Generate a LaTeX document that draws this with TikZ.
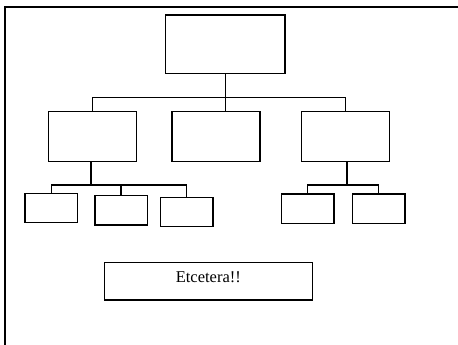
\documentclass[tikz,border=0pt]{standalone}
\usepackage{fontspec}
\setmainfont{Liberation Serif}
\usetikzlibrary{positioning}

\begin{document}
\begin{tikzpicture}[x=1pt ,y=-1pt ,line width=1.4pt ,
box/.style ={ rectangle ,draw ,fill=white ,inner sep=0pt ,line width=1.5pt},
big/.style ={ box ,minimum width =88pt ,minimum height =50pt},
small/.style ={ box ,minimum width =52.5pt ,minimum height =29.4pt}]
\useasboundingbox (0,0) rectangle (458,345);
\draw[line width=1.3pt] (5,345) -- (5,7) -- (458,7);
% top of the tree
\node[box,minimum width=119.3pt,minimum height=58.3pt] (top) at (225.3,44.2) {};
\node[big] (L) at (92.5,136.7) {};
\node[big] (C) at (216,136.7) {};
\node[big] (R) at (345.5,136.7) {};
% leaves
\node[small] (L1) at (51.3,208) {};
\node[small] (L2) at (121,210.3) {};
\node[small] (L3) at (186.5,212) {};
\node[small] (R1) at (307.7,208.7) {};
\node[small] (R2) at (378.7,208.7) {};
\node[box,minimum width=208pt,minimum height=37.7pt,font=\fontsize{16.5}{18}\selectfont,
text height=12pt,text depth=9.5pt] (etc) at (208.3,281.2) {Etcetera!!};
% connectors
\coordinate (b1) at (225.3,97.7);
\coordinate (b2) at (91,185);
\coordinate (b3) at (347,185);
\draw (top.south) -- (top.south |- C.north);
\draw (L.north) |- (b1) -| (R.north);
\draw (L.south -| b2) -- (b2);
\draw (L1.north) |- (b2) -| (L3.north);
\draw (b2 -| L2.north) -- (L2.north);
\draw (R.south -| b3) -- (b3);
\draw (R1.north) |- (b3) -| (R2.north);
\end{tikzpicture}
\end{document}
